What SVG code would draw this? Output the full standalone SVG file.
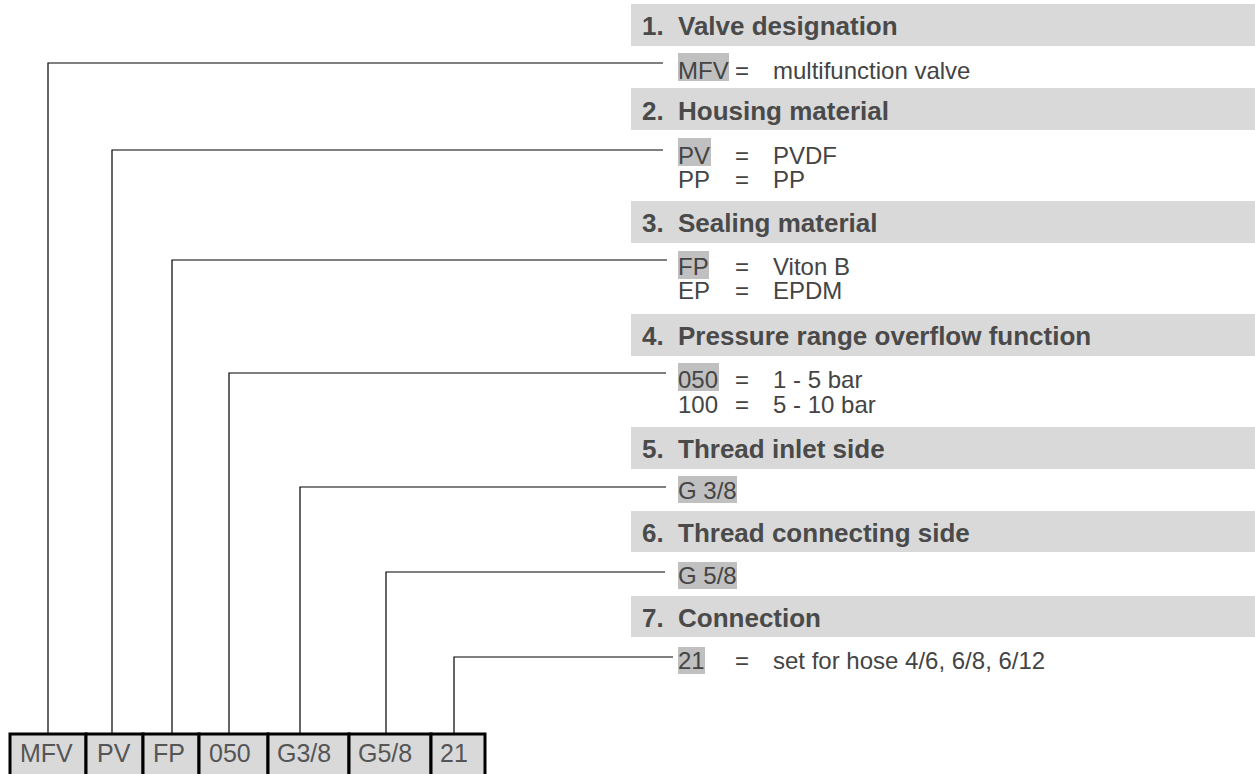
<svg xmlns="http://www.w3.org/2000/svg" width="1255" height="774" viewBox="0 0 1255 774">
<style>
.bar{fill:#d9d9d9}
.hd{font-family:"Liberation Sans",Arial,sans-serif;font-weight:bold;font-size:26px;fill:#4a4a4a}
.tx{font-family:"Liberation Sans",Arial,sans-serif;font-size:24px;fill:#444}
.hl{fill:#c0c0c0}
.box{fill:#d9d9d9;stroke:#000;stroke-width:3}
.bt{font-family:"Liberation Sans",Arial,sans-serif;font-size:25px;fill:#555}
.cn{fill:none;stroke:#000;stroke-width:1.2}
</style>
<rect width="1255" height="774" fill="#fff"/>
<g id="connectors">
<polyline class="cn" points="48,733 48,63 663,63"/>
<polyline class="cn" points="112,733 112,150 663,150"/>
<polyline class="cn" points="172,733 172,260 667,260"/>
<polyline class="cn" points="229,733 229,373 666,373"/>
<polyline class="cn" points="300,733 300,487 666,487"/>
<polyline class="cn" points="386,733 386,572 665,572"/>
<polyline class="cn" points="454,733 454,657 673,657"/>
</g>
<g id="sec1">
<rect class="bar" x="631" y="4" width="624" height="42"/>
<text class="hd" x="642" y="35">1.</text><text class="hd" x="678" y="35">Valve designation</text>
<rect class="hl" x="678" y="53" width="51" height="28"/>
<text class="tx" x="678" y="79">MFV</text><text class="tx" x="735" y="79">=</text><text class="tx" x="773" y="79">multifunction valve</text>
</g>
<g id="sec2">
<rect class="bar" x="631" y="88" width="624" height="42"/>
<text class="hd" x="642" y="120">2.</text><text class="hd" x="678" y="120">Housing material</text>
<rect class="hl" x="678" y="138" width="33" height="28"/>
<text class="tx" x="678" y="164">PV</text><text class="tx" x="735" y="164">=</text><text class="tx" x="773" y="164">PVDF</text>
<text class="tx" x="678" y="188">PP</text><text class="tx" x="735" y="188">=</text><text class="tx" x="773" y="188">PP</text>
</g>
<g id="sec3">
<rect class="bar" x="631" y="201" width="624" height="42"/>
<text class="hd" x="642" y="232">3.</text><text class="hd" x="678" y="232">Sealing material</text>
<rect class="hl" x="678" y="251" width="31" height="28"/>
<text class="tx" x="678" y="275">FP</text><text class="tx" x="735" y="275">=</text><text class="tx" x="773" y="275">Viton B</text>
<text class="tx" x="678" y="299">EP</text><text class="tx" x="735" y="299">=</text><text class="tx" x="773" y="299">EPDM</text>
</g>
<g id="sec4">
<rect class="bar" x="631" y="314" width="624" height="42"/>
<text class="hd" x="642" y="345">4.</text><text class="hd" x="678" y="345">Pressure range overflow function</text>
<rect class="hl" x="678" y="363" width="41" height="28"/>
<text class="tx" x="678" y="388">050</text><text class="tx" x="735" y="388">=</text><text class="tx" x="773" y="388">1 - 5 bar</text>
<text class="tx" x="678" y="413">100</text><text class="tx" x="735" y="413">=</text><text class="tx" x="773" y="413">5 - 10 bar</text>
</g>
<g id="sec5">
<rect class="bar" x="631" y="427" width="624" height="42"/>
<text class="hd" x="642" y="458">5.</text><text class="hd" x="678" y="458">Thread inlet side</text>
<rect class="hl" x="678" y="476" width="59" height="27"/>
<text class="tx" x="678" y="499">G 3/8</text>
</g>
<g id="sec6">
<rect class="bar" x="631" y="511" width="624" height="41"/>
<text class="hd" x="642" y="542">6.</text><text class="hd" x="678" y="542">Thread connecting side</text>
<rect class="hl" x="678" y="562" width="59" height="27"/>
<text class="tx" x="678" y="584">G 5/8</text>
</g>
<g id="sec7">
<rect class="bar" x="631" y="596" width="624" height="41"/>
<text class="hd" x="642" y="627">7.</text><text class="hd" x="678" y="627">Connection</text>
<rect class="hl" x="678" y="647" width="27" height="27"/>
<text class="tx" x="678" y="669">21</text><text class="tx" x="735" y="669">=</text><text class="tx" x="773" y="669">set for hose 4/6, 6/8, 6/12</text>
</g>
<g id="code">
<rect class="box" x="10" y="734" width="76" height="50"/>
<rect class="box" x="86" y="734" width="57" height="50"/>
<rect class="box" x="143" y="734" width="56" height="50"/>
<rect class="box" x="199" y="734" width="69" height="50"/>
<rect class="box" x="268" y="734" width="81" height="50"/>
<rect class="box" x="349" y="734" width="82" height="50"/>
<rect class="box" x="431" y="734" width="54" height="50"/>
<text class="bt" x="20" y="762">MFV</text>
<text class="bt" x="97" y="762">PV</text>
<text class="bt" x="153" y="762">FP</text>
<text class="bt" x="209" y="762">050</text>
<text class="bt" x="277" y="762">G3/8</text>
<text class="bt" x="358" y="762">G5/8</text>
<text class="bt" x="440" y="762">21</text>
</g>
</svg>
